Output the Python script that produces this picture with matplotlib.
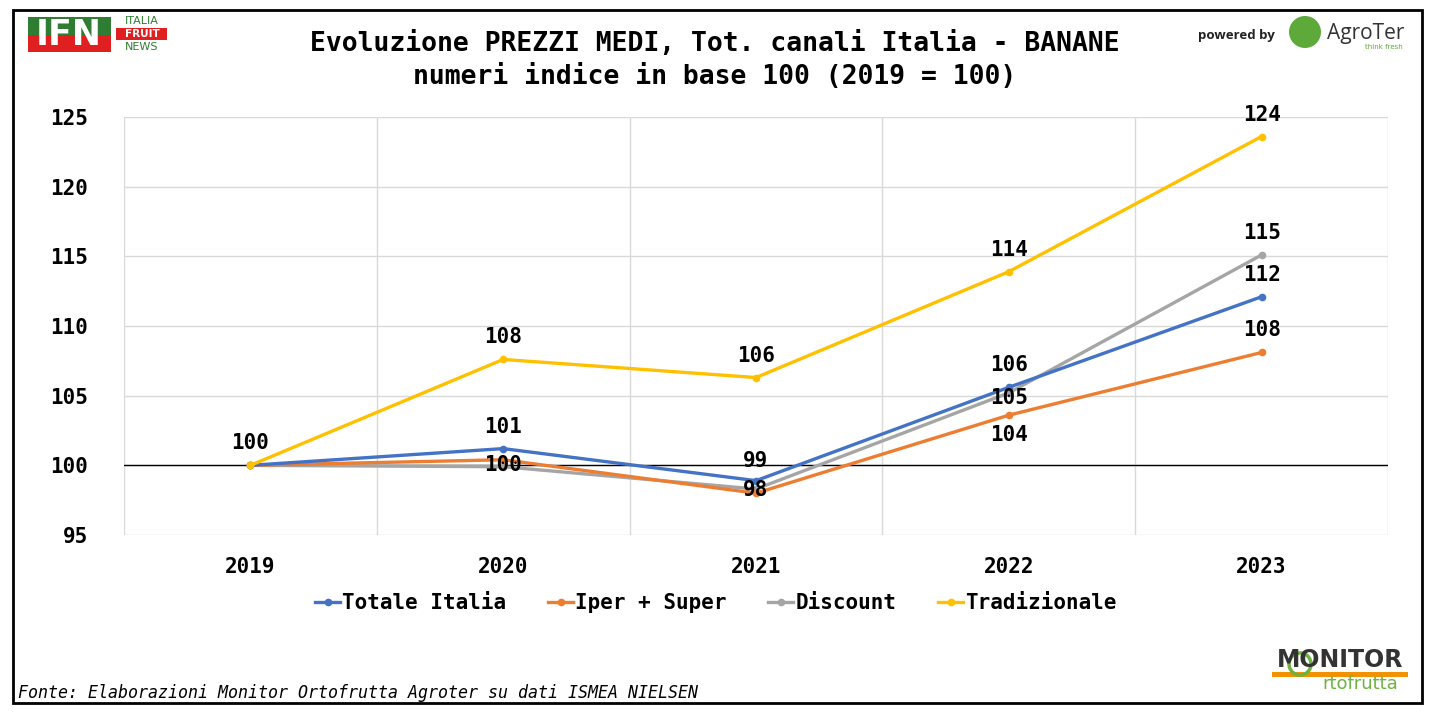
import matplotlib
matplotlib.use("Agg")
import matplotlib.pyplot as plt
from matplotlib.patches import Rectangle, Ellipse
from matplotlib.lines import Line2D

years = ["2019", "2020", "2021", "2022", "2023"]
totale = [100, 101.2, 98.9, 105.6, 112.1]
iper = [100, 100.4, 98.0, 103.6, 108.1]
discount = [100, 99.9, 98.3, 105.2, 115.1]
tradiz = [100, 107.6, 106.3, 113.9, 123.6]
labels_totale = ["", "101", "99", "106", "112"]
labels_iper = ["", "", "98", "104", "108"]
labels_discount = ["", "100", "", "105", "115"]
labels_tradiz = ["100", "108", "106", "114", "124"]
series_names = ["Totale Italia", "Iper + Super", "Discount", "Tradizionale"]
yticks = [95, 100, 105, 110, 115, 120, 125]

colors = ["#4472C4", "#ED7D31", "#A5A5A5", "#FFC000"]
# label vertical offsets in pixels (negative = above)
offs = [
    [0, -22, -20, -22, -22],
    [0, 0, -3, 20, -22],
    [0, -2, 0, 5, -22],
    [-22, -22, -22, -22, -22],
]

W, H = 1437, 718
fig = plt.figure(figsize=(W / 100, H / 100), dpi=100)
mono = "DejaVu Sans Mono"

ax = fig.add_axes([124 / W, 1 - 535 / H, (1388 - 124) / W, (535 - 117) / H])
x = list(range(len(years)))
data = [totale, iper, discount, tradiz]
labs = [labels_totale, labels_iper, labels_discount, labels_tradiz]
order = [2, 1, 0, 3]
for i in order:
    ax.plot(x, data[i], color=colors[i], lw=2.4, marker="o", ms=4.5,
            solid_capstyle="round", zorder=3 + (i == 3))
for i in range(4):
    for j in x:
        if labs[i][j]:
            ax.annotate(labs[i][j], (j, data[i][j]), xytext=(0, -offs[i][j] * 0.72),
                        textcoords="offset points", ha="center", va="center",
                        fontsize=15, fontweight="bold", family=mono, zorder=6)

ax.set_xlim(-0.5, 4.5)
ax.set_ylim(95, 125)
ax.set_yticks(yticks)
ax.set_yticklabels([str(v) for v in yticks])
ax.set_xticks(x)
ax.set_xticklabels(years)
ax.set_xticks([k - 0.5 for k in range(len(years) + 1)], minor=True)
ax.grid(True, which="minor", axis="x", color="#D9D9D9", lw=1)
ax.grid(True, which="major", axis="y", color="#D9D9D9", lw=1)
ax.axhline(100, color="black", lw=1, zorder=2)
for s in ax.spines.values():
    s.set_visible(False)
ax.tick_params(which="both", length=0)
ax.tick_params(axis="y", pad=26, labelsize=15)
ax.tick_params(axis="x", pad=16, labelsize=15)
for t in ax.get_xticklabels() + ax.get_yticklabels():
    t.set_fontfamily(mono)
    t.set_fontweight("bold")
ax.set_axisbelow(True)

handles = [Line2D([0], [0], color=colors[i], lw=2.4, marker="o", ms=4.5) for i in range(4)]
fig.legend(handles, series_names, loc="center", bbox_to_anchor=(716 / W, 1 - 603 / H),
           ncol=4, frameon=False, handlelength=1.2, handletextpad=0.1, columnspacing=2.0,
           prop={"family": mono, "weight": "bold", "size": 15})

fig.text(715 / W, 1 - 44 / H, "Evoluzione PREZZI MEDI, Tot. canali Italia - BANANE",
         ha="center", va="center", fontsize=19, fontweight="bold", family=mono)
fig.text(715 / W, 1 - 77 / H, "numeri indice in base 100 (2019 = 100)",
         ha="center", va="center", fontsize=19, fontweight="bold", family=mono)
fig.text(18 / W, 1 - 693 / H, "Fonte: Elaborazioni Monitor Ortofrutta Agroter su dati ISMEA NIELSEN",
         ha="left", va="center", fontsize=12, style="italic", family=mono)

# border
fig.patches.append(Rectangle((13 / W, 1 - 703 / H), (1422 - 13) / W, (703 - 10) / H,
                             transform=fig.transFigure, fill=False, ec="black", lw=2))

# IFN logo
fig.patches.append(Rectangle((28 / W, 1 - 35 / H), 83 / W, 18 / H,
                             transform=fig.transFigure, fc="#2E7D32", ec="none"))
fig.patches.append(Rectangle((28 / W, 1 - 52 / H), 83 / W, 17 / H,
                             transform=fig.transFigure, fc="#E02020", ec="none"))
fig.text(69 / W, 1 - 35 / H, "IFN", ha="center", va="center", fontsize=25, fontweight="bold",
         color="white", family="DejaVu Sans")
fig.text(142 / W, 1 - 21 / H, "ITALIA", ha="center", va="center", fontsize=8, color="#2E7D32",
         family="DejaVu Sans")
fig.patches.append(Rectangle((116 / W, 1 - 40 / H), 51 / W, 12 / H, transform=fig.transFigure,
                             fc="#E02020", ec="none"))
fig.text(142 / W, 1 - 34 / H, "FRUIT", ha="center", va="center", fontsize=7.5, color="white",
         fontweight="bold", family="DejaVu Sans")
fig.text(142 / W, 1 - 47 / H, "NEWS", ha="center", va="center", fontsize=8, color="#2E7D32",
         family="DejaVu Sans")

# AgroTer logo
fig.text(1236 / W, 1 - 35 / H, "powered by", ha="center", va="center", fontsize=9.5,
         fontweight="bold", color="#222222", family="Open Sans")
fig.patches.append(Ellipse((1305 / W, 1 - 32 / H), 32 / W, 32 / H, transform=fig.transFigure,
                           fc="#5DAA3A", ec="none"))
fig.text(1366 / W, 1 - 33 / H, "AgroTer", ha="center", va="center", fontsize=15,
         color="#333333", family="Open Sans")
fig.text(1384 / W, 1 - 47 / H, "think fresh", ha="center", va="center", fontsize=5,
         color="#5DAA3A", family="DejaVu Sans")

# Monitor Ortofrutta logo
fig.patches.append(Rectangle((1272 / W, 1 - 677 / H), 136 / W, 5 / H, transform=fig.transFigure,
                             fc="#F39200", ec="none"))
fig.text(1340 / W, 1 - 660 / H, "MONITOR", ha="center", va="center", fontsize=17,
         fontweight="bold", color="#333333", family="Liberation Sans Narrow")
fig.text(1360 / W, 1 - 684 / H, "rtofrutta", ha="center", va="center", fontsize=13,
         color="#6DB33F", family="Liberation Sans Narrow")
fig.patches.append(Ellipse((1300 / W, 1 - 664 / H), 22 / W, 22 / H, transform=fig.transFigure,
                           fc="none", ec="#6DB33F", lw=2.5))

fig.savefig("out.png", dpi=100)
